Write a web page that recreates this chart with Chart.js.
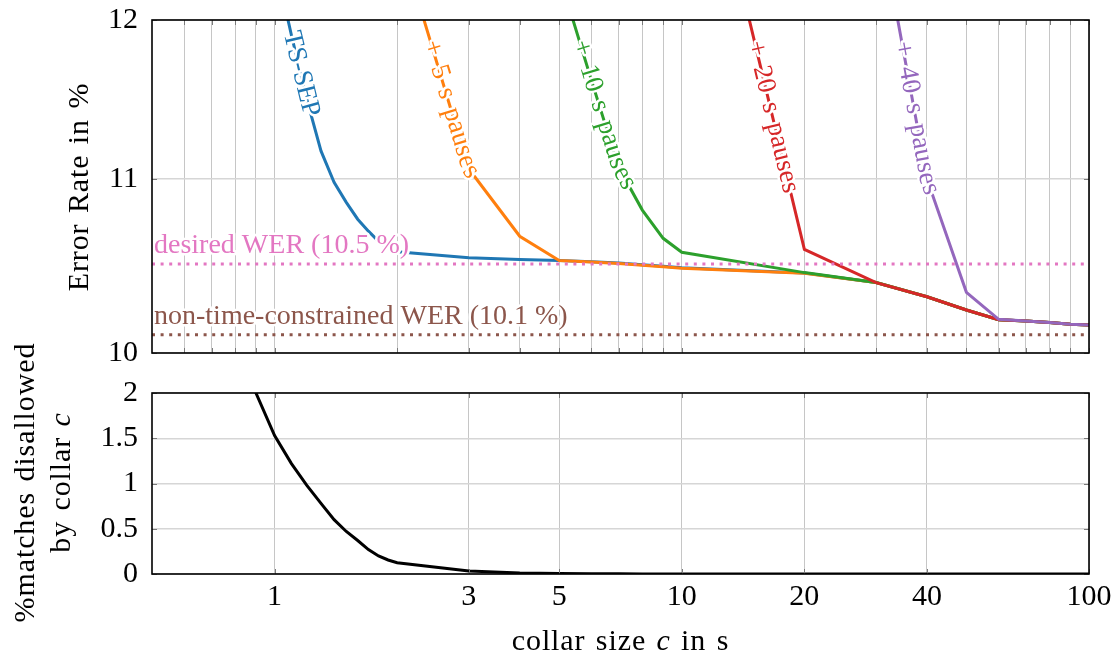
<!DOCTYPE html>
<html>
<head>
<meta charset="utf-8">
<script src="https://cdn.jsdelivr.net/npm/chart.js@4.4.1/dist/chart.umd.min.js"></script>
<style>
  html, body { margin: 0; padding: 0; background: #ffffff; }
  #wrap { position: relative; width: 1119px; height: 655px; overflow: hidden; }
  #wrap canvas { position: absolute; left: 0; }
</style>
</head>
<body>
<div id="wrap">
  <canvas id="werChart" width="1119" height="375" style="top:0px"></canvas>
  <canvas id="collarChart" width="1119" height="355" style="top:300px"></canvas>
</div>
<script>
// ---- data -------------------------------------------------------------
// collar size c in seconds, error rate in %
const tsSepCollar = [1.0, 1.1, 1.2, 1.3, 1.4, 1.5, 1.6, 1.7, 1.8, 1.9, 2.0, 3, 4, 5, 6, 7, 8, 9, 10, 20, 30, 40, 50, 60, 70, 80, 90, 100];
const tsSepWer    = [12.4, 11.9, 11.49, 11.17, 10.98, 10.86, 10.76, 10.69, 10.63, 10.59, 10.57, 10.535, 10.525, 10.52, 10.513, 10.505, 10.495, 10.486, 10.478, 10.448, 10.393, 10.313, 10.238, 10.184, 10.177, 10.168, 10.158, 10.155];

const pause5Collar = [2, 3, 4, 5, 6, 7, 8, 9, 10, 20, 30, 40, 50, 60, 70, 80, 90, 100];
const pause5Wer    = [12.6, 11.06, 10.66, 10.52, 10.511, 10.502, 10.492, 10.483, 10.475, 10.446, 10.393, 10.313, 10.238, 10.184, 10.177, 10.168, 10.158, 10.155];

const pause10Collar = [5, 6, 7, 8, 9, 10, 20, 30, 40, 50, 60, 70, 80, 90, 100];
const pause10Wer    = [12.3, 11.61, 11.07, 10.814, 10.648, 10.567, 10.45, 10.393, 10.313, 10.238, 10.184, 10.177, 10.168, 10.158, 10.155];

const pause20Collar = [10, 20, 30, 40, 50, 60, 70, 80, 90, 100];
const pause20Wer    = [14.0, 10.584, 10.393, 10.313, 10.238, 10.184, 10.177, 10.168, 10.158, 10.155];

const pause40Collar = [30, 40, 50, 60, 70, 80, 90, 100];
const pause40Wer    = [12.8, 11.0, 10.338, 10.186, 10.177, 10.168, 10.158, 10.155];

const desiredWer = 10.5;
const unconstrainedWer = 10.1;

// share of matches (in %) that a collar c rules out
const disallowCollar = [0.8, 0.9, 1.0, 1.1, 1.2, 1.3, 1.4, 1.5, 1.6, 1.7, 1.8, 1.9, 2.0, 3, 4, 5, 6, 7, 8, 9, 10, 20, 30, 40, 50, 60, 70, 80, 90, 100];
const disallowShare  = [2.6, 2.0, 1.53, 1.22, 0.98, 0.78, 0.6, 0.47, 0.37, 0.27, 0.2, 0.155, 0.125, 0.033, 0.012, 0.006, 0.003, 0.002, 0.001, 0.001, 0.001, 0, 0, 0, 0, 0, 0, 0, 0, 0];

// axis ticks
const collarGridTop    = [0.6, 0.7, 0.8, 0.9, 1, 2, 3, 4, 5, 6, 7, 8, 9, 10, 20, 30, 40, 50, 60, 70, 80, 90, 100];
const collarTickLabels = [1, 3, 5, 10, 20, 40, 100];
const werTicks   = [10, 11, 12];
const shareTicks = [0, 0.5, 1, 1.5, 2];

// ---- shared look ------------------------------------------------------
const SERIF = '"Liberation Serif", "Times New Roman", serif';
const TICK_FONT = { family: SERIF, size: 30 };
const GRID_X = '#c6c6c6';
const GRID_Y = '#d6d6d6';
const NONE = 'rgba(0,0,0,0)';

const pairs = (xs, ys) => xs.map((x, i) => ({ x: x, y: ys[i] }));
const setTicks = values => scale => { scale.ticks = values.map(v => ({ value: v })); };

function curve(label, xs, ys, color, order, pathLabel, startOffset) {
  return {
    label: label,
    data: pairs(xs, ys),
    borderColor: color,
    backgroundColor: color,
    borderWidth: 3,
    borderJoinStyle: 'miter',
    pointRadius: 0,
    tension: 0,
    fill: false,
    order: order,
    pathLabel: pathLabel,
    pathStart: startOffset
  };
}

function refLine(label, value, color, text) {
  return {
    label: label,
    data: [{ x: 0.5, y: value }, { x: 100, y: value }],
    borderColor: color,
    borderWidth: 3,
    borderDash: [3, 5.6],
    borderCapStyle: 'butt',
    pointRadius: 0,
    fill: false,
    order: 0,
    refText: text
  };
}

// frame around the plot area plus short inward tick marks
const framePlugin = {
  id: 'frame',
  afterDraw(chart) {
    const { ctx, chartArea: a, scales } = chart;
    ctx.save();
    ctx.strokeStyle = '#7a7a7a';
    ctx.lineWidth = 1;
    ctx.beginPath();
    scales.x.ticks.forEach(t => {
      const px = Math.round(scales.x.getPixelForValue(t.value)) + 0.5;
      ctx.moveTo(px, a.bottom); ctx.lineTo(px, a.bottom - 5);
      ctx.moveTo(px, a.top); ctx.lineTo(px, a.top + 5);
    });
    scales.y.ticks.forEach(t => {
      const py = Math.round(scales.y.getPixelForValue(t.value)) + 0.5;
      ctx.moveTo(a.left, py); ctx.lineTo(a.left + 5, py);
      ctx.moveTo(a.right, py); ctx.lineTo(a.right - 5, py);
    });
    ctx.stroke();
    ctx.strokeStyle = '#000000';
    ctx.lineWidth = 1.6;
    ctx.strokeRect(a.left, a.top, a.right - a.left, a.bottom - a.top);
    ctx.restore();
  }
};

// writes a curve's name along its own path, starting where it enters the plot
function textAlongPath(ctx, pts, area, text, startOffset, size, color) {
  const first = pts.findIndex(p => p.y >= area.top);
  if (first < 0) return;
  const poly = [];
  if (first > 0) {
    const q = pts[first - 1], p = pts[first];
    const t = (area.top - q.y) / (p.y - q.y);
    poly.push({ x: q.x + t * (p.x - q.x), y: area.top });
  }
  for (let i = first; i < pts.length; i++) poly.push({ x: pts[i].x, y: pts[i].y });
  const cum = [0];
  for (let i = 1; i < poly.length; i++) {
    cum.push(cum[i - 1] + Math.hypot(poly[i].x - poly[i - 1].x, poly[i].y - poly[i - 1].y));
  }
  const at = s => {
    let i = 1;
    while (i < poly.length - 1 && cum[i] < s) i++;
    const p0 = poly[i - 1], p1 = poly[i];
    const seg = cum[i] - cum[i - 1] || 1;
    const t = (s - cum[i - 1]) / seg;
    return { x: p0.x + t * (p1.x - p0.x), y: p0.y + t * (p1.y - p0.y), a: Math.atan2(p1.y - p0.y, p1.x - p0.x) };
  };
  ctx.save();
  ctx.font = size + 'px ' + SERIF;
  ctx.textAlign = 'center';
  ctx.textBaseline = 'alphabetic';
  ctx.lineJoin = 'round';
  const spaceW = size * 0.38;
  let s = startOffset;
  for (const ch of text) {
    const w = ch === ' ' ? spaceW : ctx.measureText(ch).width;
    if (ch !== ' ') {
      const p = at(s + w / 2);
      ctx.save();
      ctx.translate(p.x, p.y);
      ctx.rotate(p.a);
      ctx.strokeStyle = '#ffffff';
      ctx.lineWidth = 5;
      ctx.strokeText(ch, 0, size * 0.26);
      ctx.fillStyle = color;
      ctx.fillText(ch, 0, size * 0.26);
      ctx.restore();
    }
    s += w;
  }
  ctx.restore();
}

const curveLabelPlugin = {
  id: 'curveLabels',
  afterDatasetsDraw(chart) {
    const { ctx, chartArea } = chart;
    chart.data.datasets.forEach((ds, i) => {
      const meta = chart.getDatasetMeta(i);
      if (ds.pathLabel) {
        const pts = meta.data.map(el => ({ x: el.x, y: el.y }));
        textAlongPath(ctx, pts, chartArea, ds.pathLabel, ds.pathStart, 27, ds.borderColor);
      }
      if (ds.refText) {
        const y = meta.data[0].y;
        ctx.save();
        ctx.font = '28px ' + SERIF;
        ctx.textAlign = 'left';
        ctx.textBaseline = 'alphabetic';
        ctx.lineJoin = 'round';
        ctx.strokeStyle = '#ffffff';
        ctx.lineWidth = 5;
        ctx.strokeText(ds.refText, chartArea.left + 2, y - 11);
        ctx.fillStyle = ds.borderColor;
        ctx.fillText(ds.refText, chartArea.left + 2, y - 11);
        ctx.restore();
      }
    });
  }
};

// text made of runs (upright / italic), centred on (cx, cy), optionally turned upwards
function drawRuns(ctx, runs, cx, cy, vertical) {
  ctx.save();
  ctx.translate(cx, cy);
  if (vertical) ctx.rotate(-Math.PI / 2);
  ctx.letterSpacing = '0.9px';
  ctx.wordSpacing = '2px';
  ctx.textAlign = 'left';
  ctx.textBaseline = 'alphabetic';
  ctx.fillStyle = '#000000';
  let total = 0;
  runs.forEach(r => { ctx.font = r.font; total += ctx.measureText(r.text).width; });
  let x = -total / 2;
  runs.forEach(r => { ctx.font = r.font; ctx.fillText(r.text, x, 0); x += ctx.measureText(r.text).width; });
  ctx.restore();
}
const UP = '30px ' + SERIF;
const IT = 'italic 30px ' + SERIF;

const werTitlePlugin = {
  id: 'werTitle',
  afterDraw(chart) {
    drawRuns(chart.ctx, [{ text: 'Error Rate in %', font: UP }], 88, 187, true);
  }
};
const collarTitlePlugin = {
  id: 'collarTitle',
  afterDraw(chart) {
    const ctx = chart.ctx;
    drawRuns(ctx, [{ text: '%matches disallowed', font: UP }], 34, 182.5, true);
    drawRuns(ctx, [{ text: 'by collar ', font: UP }, { text: 'c', font: IT }], 70, 182.5, true);
    drawRuns(ctx, [{ text: 'collar size ', font: UP }, { text: 'c', font: IT }, { text: ' in s', font: UP }], 620.5, 350, false);
  }
};

const commonOptions = {
  responsive: false,
  animation: false,
  devicePixelRatio: 1,
  events: [],
  plugins: { legend: { display: false }, tooltip: { enabled: false } }
};

// ---- upper panel: error rate over collar size -------------------------
new Chart(document.getElementById('werChart'), {
  type: 'line',
  data: {
    datasets: [
      curve('TS-SEP', tsSepCollar, tsSepWer, '#1f77b4', 5, 'TS-SEP', 12),
      curve('+ 5 s pauses', pause5Collar, pause5Wer, '#ff7f0e', 4, '+ 5 s pauses', 22),
      curve('+ 10 s pauses', pause10Collar, pause10Wer, '#2ca02c', 3, '+ 10 s pauses', 22),
      curve('+ 20 s pauses', pause20Collar, pause20Wer, '#d62728', 2, '+ 20 s pauses', 22),
      curve('+ 40 s pauses', pause40Collar, pause40Wer, '#9467bd', 1, '+ 40 s pauses', 22),
      refLine('desired WER', desiredWer, '#e377c2', 'desired WER (' + desiredWer + ' %)'),
      refLine('non-time-constrained WER', unconstrainedWer, '#8c564b', 'non-time-constrained WER (' + unconstrainedWer + ' %)')
    ]
  },
  options: Object.assign({}, commonOptions, {
    layout: { padding: { left: 0, right: 30, top: 20, bottom: 0 } },
    scales: {
      x: {
        type: 'logarithmic',
        min: 0.5, max: 100,
        afterBuildTicks: setTicks(collarGridTop),
        afterFit: s => { s.height = 22; },
        ticks: { display: false, autoSkip: false, padding: 0 },
        grid: { color: GRID_X, lineWidth: 1, drawTicks: false },
        border: { display: false }
      },
      y: {
        type: 'logarithmic',
        min: 10, max: 12,
        afterBuildTicks: setTicks(werTicks),
        afterFit: s => { s.width = 152; },
        ticks: { font: TICK_FONT, color: '#000000', padding: 0, autoSkip: false, callback: v => String(v) },
        grid: { color: GRID_Y, lineWidth: 1.5, drawTicks: true, tickLength: 14, tickColor: NONE },
        border: { display: false }
      }
    }
  }),
  plugins: [curveLabelPlugin, framePlugin, werTitlePlugin]
});

// ---- lower panel: matches ruled out by the collar ---------------------
new Chart(document.getElementById('collarChart'), {
  type: 'line',
  data: {
    datasets: [{
      label: 'matches disallowed',
      data: pairs(disallowCollar, disallowShare),
      borderColor: '#000000',
      borderWidth: 3,
      pointRadius: 0,
      tension: 0,
      fill: false
    }]
  },
  options: Object.assign({}, commonOptions, {
    layout: { padding: { left: 0, right: 30, top: 93, bottom: 0 } },
    scales: {
      x: {
        type: 'logarithmic',
        min: 0.5, max: 100,
        afterBuildTicks: setTicks(collarTickLabels),
        afterFit: s => { s.height = 81; },
        ticks: { font: TICK_FONT, color: '#000000', padding: 0, autoSkip: false, maxRotation: 0, callback: v => String(v) },
        grid: { color: GRID_X, lineWidth: 1, drawTicks: true, tickLength: 5, tickColor: NONE },
        border: { display: false }
      },
      y: {
        type: 'linear',
        min: 0, max: 2,
        afterBuildTicks: setTicks(shareTicks),
        afterFit: s => { s.width = 152; },
        ticks: { font: TICK_FONT, color: '#000000', padding: 0, autoSkip: false, callback: v => String(v) },
        grid: { color: GRID_Y, lineWidth: 1.5, drawTicks: true, tickLength: 14, tickColor: NONE },
        border: { display: false }
      }
    }
  }),
  plugins: [framePlugin, collarTitlePlugin]
});
</script>
</body>
</html>
